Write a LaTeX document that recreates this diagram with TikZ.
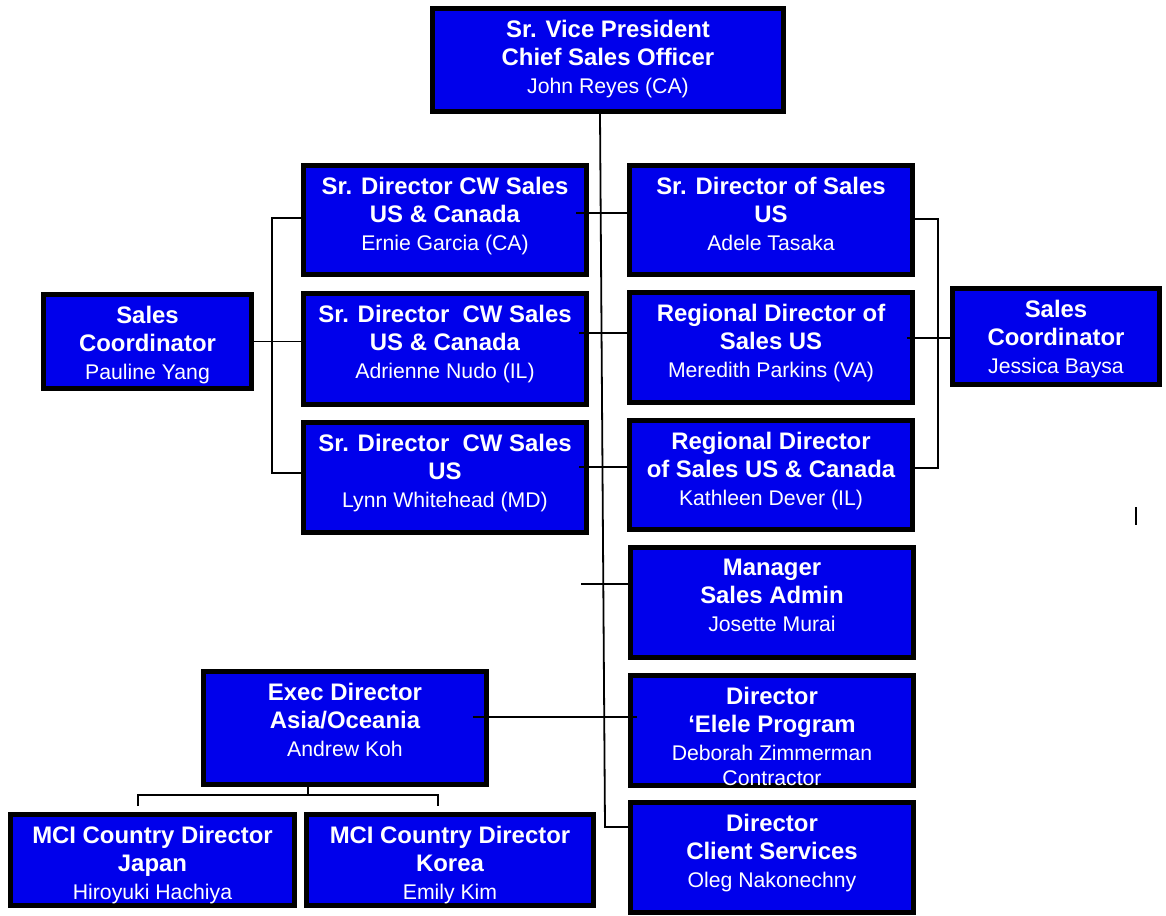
\documentclass[tikz,border=0pt]{standalone}
\usepackage{fontspec}
\setmainfont{Liberation Sans}
\usetikzlibrary{fit}
\definecolor{boxblue}{RGB}{0,0,235}
\tikzset{
  orgbox/.style={draw=black, line width=5bp, fill=boxblue, inner sep=0pt},
  orgtxt/.style={text=white, align=center, inner sep=0pt, anchor=north,
    font=\fontsize{24}{28.5}\selectfont\bfseries},
  wire/.style={draw=black, line width=1.8bp},
}
\newcommand\regline[1]{{\fontsize{21.3}{25}\selectfont\mdseries #1}}
\newcommand\OrgBox[6]{%
  \node[orgbox, fit={({#2+2.5},{#3+2.5}) ({#4-2.5},{#5-2.5})}] (#1) {};
  \node[orgtxt] (#1-t) at ([yshift=-13.5bp]#1.north) {#6};
}
\begin{document}
\begin{tikzpicture}[x=1bp, y=-1bp]
\useasboundingbox (0,0) rectangle (1166,916);
\fill[white] (0,0) rectangle (1166,916);

\OrgBox{vp}{430}{6}{786}{114}{Sr. Vice President\\Chief Sales Officer\\\regline{John Reyes (CA)}}
\OrgBox{cw1}{301}{163}{589}{277}{Sr. Director CW Sales\\US \& Canada\\\regline{Ernie Garcia (CA)}}
\OrgBox{cw2}{301}{291}{589}{407}{Sr. Director~ CW Sales\\US \& Canada\\\regline{Adrienne Nudo (IL)}}
\OrgBox{cw3}{301}{420}{589}{535}{Sr. Director~ CW Sales\\US\\\regline{Lynn Whitehead (MD)}}
\OrgBox{sds}{627}{163}{915}{277}{Sr. Director of Sales\\US\\\regline{Adele Tasaka}}
\OrgBox{rd1}{627}{290}{915}{405}{Regional Director of\\Sales US\\\regline{Meredith Parkins (VA)}}
\OrgBox{rd2}{627}{418}{915}{532}{Regional Director\\of Sales US \& Canada\\\regline{Kathleen Dever (IL)}}
\OrgBox{mgr}{628}{545}{916}{660}{Manager\\Sales Admin\\\regline{Josette Murai}}
\OrgBox{ele}{628}{673}{916}{788}{Director\\‘Elele Program\\\regline{Deborah Zimmerman}\\[-4bp]\regline{Contractor}}
\OrgBox{cli}{628}{800}{916}{915}{Director\\Client Services\\\regline{Oleg Nakonechny}}
\OrgBox{paul}{41}{292}{254}{391}{Sales\\Coordinator\\\regline{Pauline Yang}}
\OrgBox{jess}{950}{286}{1162}{387}{Sales\\Coordinator\\\regline{Jessica Baysa}}
\OrgBox{exec}{201}{669}{489}{787}{Exec Director\\Asia/Oceania\\\regline{Andrew Koh}}
\OrgBox{jap}{8}{812}{297}{908}{MCI Country Director\\Japan\\\regline{Hiroyuki Hachiya}}
\OrgBox{kor}{304}{812}{596}{908}{MCI Country Director\\Korea\\\regline{Emily Kim}}

% trunk
\coordinate (t0) at ([xshift=-8bp]vp.south);
\coordinate (tb) at (605,827);
\draw[wire] (t0) -- (tb) -- (tb -| cli.west);
% left column to right column
\coordinate (a1) at (576,213);
\draw[wire] (a1) -- (a1 -| sds.west);
\coordinate (a2) at (579,333);
\draw[wire] (a2) -- (a2 -| rd1.west);
\coordinate (a3) at (579,467);
\draw[wire] (a3) -- (a3 -| rd2.west);
% left bracket
\coordinate (lb1) at (272,218);
\coordinate (lb3) at (272,473);
\draw[wire] (lb1 -| cw1.west) -- (lb1) -- (lb3) -- (lb3 -| cw3.west);
\draw[wire] (paul.east) -- (paul.east -| cw2.west);
% right bracket
\coordinate (rb1) at (938,219);
\coordinate (rb3) at (938,468);
\draw[wire] (rb1 -| sds.east) -- (rb1) -- (rb3) -- (rb3 -| rd2.east);
\coordinate (j0) at (907,338);
\draw[wire] (j0) -- (j0 -| jess.west);
% manager stub
\coordinate (m0) at (581,584);
\draw[wire] (m0) -- (m0 -| mgr.west);
% exec to elele
\coordinate (e0) at (473,717);
\coordinate (e1) at (637,717);
\draw[wire] (e0) -- (e1);
% exec to country directors
\coordinate (x0) at (308,795);
\coordinate (xl) at (138,795);
\coordinate (xr) at (438,795);
\coordinate (jl) at (138,806);
\coordinate (kr) at (438,806);
\draw[wire] ([xshift=-37bp]exec.south) -- (x0);
\draw[wire] (jl) -- (xl) -- (xr) -- (kr);
% stray mark
\coordinate (s0) at (1136,507);
\coordinate (s1) at (1136,525);
\draw[line width=2.5bp] (s0) -- (s1);
\end{tikzpicture}
\end{document}
